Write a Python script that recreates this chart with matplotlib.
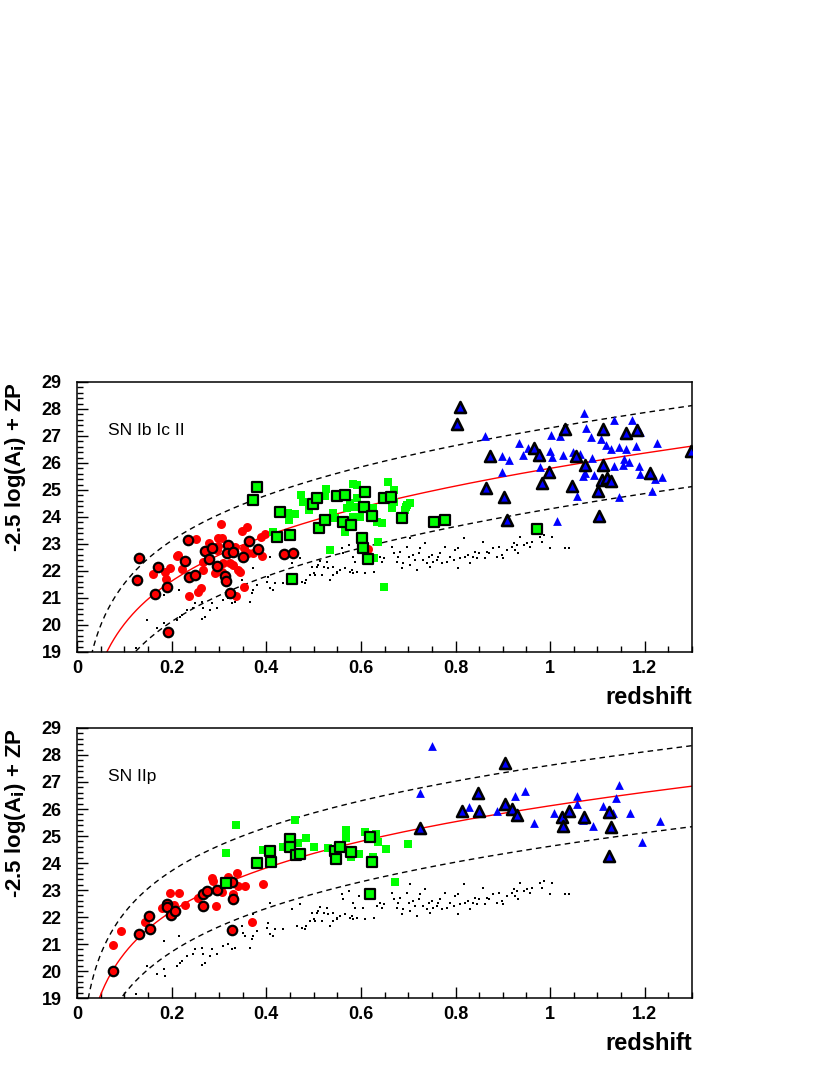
import numpy as np
import matplotlib
matplotlib.use("Agg")
import matplotlib.pyplot as plt
from matplotlib.ticker import MultipleLocator

plt.rcParams['font.family'] = ['Liberation Sans', 'DejaVu Sans']

# ---------------- data: top panel (SN Ib Ic II) ----------------
dot_z = [0.147, 0.183, 0.186, 0.168, 0.211, 0.218, 0.221, 0.233, 0.249, 0.246, 0.264, 0.267,
         0.270, 0.264, 0.281, 0.285, 0.295, 0.309, 0.320, 0.327, 0.334, 0.348, 0.350, 0.355,
         0.366, 0.369, 0.373, 0.373, 0.380, 0.401, 0.404, 0.407, 0.408, 0.415, 0.419, 0.436,
         0.454, 0.464, 0.471, 0.475, 0.482, 0.485, 0.493, 0.496, 0.500, 0.503, 0.507, 0.510,
         0.514, 0.517, 0.521, 0.528, 0.531, 0.535, 0.542, 0.549, 0.216, 0.183, 0.125,
         0.560, 0.563, 0.574, 0.584, 0.588, 0.591, 0.584, 0.577, 0.581, 0.567, 0.556, 0.549,
         0.542, 0.595, 0.605, 0.609, 0.627, 0.634, 0.641, 0.644, 0.648, 0.665, 0.669, 0.676,
         0.679, 0.683, 0.686, 0.690, 0.697, 0.701, 0.704, 0.704, 0.711, 0.715, 0.718, 0.722,
         0.725, 0.732, 0.736, 0.739, 0.743, 0.746, 0.750, 0.753, 0.760, 0.764, 0.768, 0.771,
         0.778, 0.782, 0.789, 0.796, 0.799, 0.806, 0.806, 0.810, 0.817, 0.820, 0.827, 0.831,
         0.838, 0.842, 0.845, 0.849, 0.859, 0.863, 0.866, 0.870, 0.880, 0.887, 0.891, 0.898,
         0.901, 0.908, 0.919, 0.923, 0.926, 0.930, 0.933, 0.937, 0.944, 0.951, 0.958, 0.961,
         0.979, 0.982, 0.986, 1.000, 1.004, 1.032, 1.039]
dot_m = [20.19, 20.06, 19.81, 19.88, 20.19, 20.28, 20.37, 20.56, 20.80, 20.62, 20.86, 20.62,
         20.31, 20.21, 20.56, 20.80, 20.62, 20.93, 20.99, 20.80, 20.86, 21.67, 21.42, 21.30,
         20.86, 21.17, 21.30, 22.10, 21.48, 21.61, 21.79, 22.53, 21.36, 21.30, 21.54, 21.54,
         22.28, 21.67, 22.47, 21.61, 21.57, 21.67, 21.85, 22.16, 21.91, 21.85, 22.16, 22.22,
         22.38, 21.85, 22.16, 22.35, 22.10, 21.67, 22.16, 21.98, 21.30, 21.11, 19.14,
         22.84, 22.65, 22.96, 22.53, 22.35, 21.98, 21.91, 21.98, 22.04, 22.10, 22.04, 21.91,
         21.85, 22.78, 22.35, 21.91, 21.98, 22.41, 22.53, 22.35, 22.47, 22.90, 22.65, 22.35,
         22.53, 22.72, 22.10, 22.28, 22.90, 22.53, 23.21, 22.22, 22.59, 22.41, 22.04, 22.65,
         22.84, 22.41, 23.02, 22.28, 22.53, 22.16, 22.59, 22.35, 22.41, 22.53, 22.65, 22.28,
         22.90, 22.35, 22.53, 22.41, 22.78, 22.10, 22.84, 22.47, 23.21, 22.53, 22.59, 22.28,
         22.53, 22.72, 22.47, 22.65, 23.09, 22.47, 22.72, 22.65, 22.84, 22.53, 22.90, 22.59,
         22.47, 22.78, 22.90, 23.02, 22.78, 22.96, 22.65, 23.27, 22.96, 23.02, 22.90, 23.09,
         23.27, 23.09, 23.33, 22.84, 23.27, 22.84, 22.84]

top_red_z = [0.251, 0.304, 0.297, 0.306, 0.359, 0.348, 0.389, 0.397, 0.161, 0.186, 0.197, 0.211,
             0.214, 0.221, 0.266, 0.262, 0.256, 0.237, 0.295, 0.299, 0.323, 0.330, 0.334, 0.341,
             0.345, 0.352, 0.335, 0.352, 0.362, 0.371, 0.390, 0.292, 0.306, 0.188, 0.309, 0.267,
             0.279, 0.616]
top_red_m = [23.17, 23.74, 23.23, 23.23, 23.64, 23.48, 23.27, 23.36, 21.88, 21.97, 22.10, 22.55,
             22.59, 22.06, 22.04, 21.36, 21.23, 21.07, 22.78, 22.93, 22.31, 22.22, 22.90, 22.04,
             21.95, 21.39, 21.09, 22.84, 22.68, 22.68, 22.57, 21.91, 21.97, 21.70, 22.31, 22.34,
             23.02, 22.81]
top_redk_z = [0.131, 0.126, 0.171, 0.165, 0.190, 0.192, 0.228, 0.235, 0.237, 0.249, 0.271, 0.280,
              0.285, 0.295, 0.313, 0.315, 0.319, 0.316, 0.329, 0.323, 0.350, 0.364, 0.382, 0.438,
              0.456]
top_redk_m = [22.49, 21.67, 22.16, 21.13, 21.42, 19.73, 22.38, 23.15, 21.77, 21.86, 22.74, 22.43,
              22.86, 22.20, 21.83, 21.64, 22.96, 22.68, 22.69, 21.17, 22.53, 23.11, 22.81, 22.64,
              22.68]

top_grn_z = [0.473, 0.478, 0.491, 0.524, 0.526, 0.447, 0.461, 0.449, 0.542, 0.545, 0.567, 0.583,
             0.591, 0.591, 0.588, 0.584, 0.577, 0.598, 0.570, 0.626, 0.634, 0.644, 0.637, 0.657,
             0.669, 0.665, 0.670, 0.697, 0.693, 0.535, 0.628, 0.649, 0.415, 0.704, 0.696]
top_grn_m = [24.81, 24.57, 24.26, 24.78, 25.02, 24.16, 24.11, 23.89, 24.14, 23.95, 23.43, 25.22,
             25.19, 24.69, 24.36, 24.01, 24.51, 24.01, 24.32, 24.32, 23.83, 23.79, 23.09, 25.31,
             25.00, 24.32, 24.57, 24.44, 24.26, 22.78, 22.47, 21.39, 23.43, 24.53, 24.38]
top_grnk_z = [0.380, 0.373, 0.428, 0.422, 0.450, 0.454, 0.498, 0.508, 0.511, 0.524, 0.549, 0.567,
              0.562, 0.579, 0.609, 0.607, 0.623, 0.603, 0.604, 0.615, 0.648, 0.664, 0.686, 0.755,
              0.777, 0.972]
top_grnk_m = [25.12, 24.61, 24.20, 23.25, 23.35, 21.69, 24.47, 24.70, 23.59, 23.89, 24.79, 24.83,
              23.81, 23.72, 24.94, 24.36, 24.05, 23.21, 22.84, 22.43, 24.70, 24.73, 23.95, 23.80,
              23.89, 23.54]

top_blu_z = [0.863, 0.899, 0.914, 0.899, 0.934, 0.942, 0.954, 0.979, 1.001, 1.000, 1.004, 1.021,
             1.027, 1.049, 1.063, 1.056, 1.014, 1.072, 1.075, 1.087, 1.088, 1.069, 1.074, 1.092,
             1.108, 1.118, 1.128, 1.136, 1.145, 1.154, 1.157, 1.166, 1.161, 1.174, 1.181, 1.190,
             1.187, 1.189, 1.208, 1.222, 1.226, 1.236, 1.215, 1.146, 1.134]
top_blu_m = [27.00, 26.27, 26.11, 25.68, 26.75, 26.30, 26.54, 25.86, 27.04, 26.44, 26.21, 27.00,
             26.30, 26.42, 26.33, 24.78, 23.86, 27.84, 27.28, 26.97, 26.17, 25.52, 25.64, 25.56,
             26.89, 26.67, 26.51, 27.59, 26.58, 25.93, 26.14, 26.05, 26.51, 27.59, 26.63, 27.16,
             25.90, 25.59, 25.59, 25.39, 26.73, 25.47, 24.96, 24.75, 25.89]
top_bluk_z = [0.810, 0.803, 0.873, 0.865, 0.903, 0.908, 0.965, 0.977, 0.998, 0.982, 1.032, 1.055,
              1.047, 1.073, 1.104, 1.102, 1.111, 1.111, 1.109, 1.120, 1.128, 1.161, 1.183, 1.211,
              1.298]
top_bluk_m = [28.06, 27.43, 26.26, 25.06, 24.75, 23.89, 26.54, 26.30, 25.68, 25.25, 27.25, 26.27,
              25.16, 25.93, 24.05, 24.97, 27.26, 25.93, 25.37, 25.43, 25.35, 27.12, 27.22, 25.62,
              26.44]

# ---------------- data: bottom panel (SN IIp) ----------------
bot_red_z = [0.077, 0.094, 0.144, 0.179, 0.197, 0.204, 0.216, 0.228, 0.256, 0.285, 0.287, 0.294,
             0.306, 0.320, 0.330, 0.338, 0.341, 0.355, 0.394, 0.369]
bot_red_m = [20.96, 21.48, 21.83, 22.32, 22.88, 22.44, 22.88, 22.44, 22.69, 23.43, 23.35, 22.42,
             22.94, 23.49, 22.85, 23.62, 23.15, 23.15, 23.22, 21.80]
bot_redk_z = [0.077, 0.132, 0.153, 0.154, 0.190, 0.190, 0.199, 0.207, 0.266, 0.274, 0.267, 0.295,
              0.328, 0.329, 0.327]
bot_redk_m = [20.01, 21.37, 22.04, 21.54, 22.48, 22.36, 22.07, 22.23, 22.85, 22.98, 22.42, 23.00,
              23.28, 22.67, 21.52]

bot_grn_z = [0.336, 0.315, 0.394, 0.436, 0.461, 0.468, 0.484, 0.500, 0.531, 0.568, 0.568, 0.579,
             0.596, 0.609, 0.632, 0.637, 0.653, 0.626, 0.672, 0.700]
bot_grn_m = [25.41, 24.38, 24.48, 24.58, 25.59, 24.73, 24.91, 24.60, 24.54, 25.22, 24.91, 24.21,
             24.33, 25.14, 25.07, 24.77, 24.52, 24.21, 23.28, 24.69]
bot_grnk_z = [0.314, 0.381, 0.408, 0.410, 0.450, 0.450, 0.463, 0.471, 0.545, 0.547, 0.555, 0.579,
              0.619, 0.623, 0.619]
bot_grnk_m = [23.27, 23.99, 24.44, 24.05, 24.88, 24.58, 24.30, 24.32, 24.46, 24.16, 24.60, 24.42,
              24.95, 24.04, 22.84]

bot_blu_z = [0.751, 0.725, 0.829, 0.887, 0.926, 0.947, 0.965, 1.009, 1.056, 1.056, 1.070, 1.090,
             1.111, 1.132, 1.140, 1.146, 1.168, 1.194, 1.233]
bot_blu_m = [28.33, 26.61, 26.09, 25.94, 26.48, 26.68, 25.47, 25.84, 26.48, 26.19, 25.59, 25.37,
             26.12, 25.84, 26.40, 26.89, 25.84, 24.77, 25.57]
bot_bluk_z = [0.725, 0.813, 0.847, 0.850, 0.905, 0.905, 0.920, 0.931, 1.026, 1.028, 1.040, 1.072,
              1.125, 1.128, 1.125]
bot_bluk_m = [25.28, 25.94, 26.58, 25.94, 27.72, 26.19, 25.99, 25.78, 25.72, 25.38, 25.93, 25.72,
              25.90, 25.32, 24.27]

# model curve m(z) = A + 5 log10(z) + B z, band +-1.5 mag
curve_top = (24.95, 0.85)
curve_bot = (25.60, 0.52)
band = 1.5


def model(z, pars):
    a, b = pars
    return a + 5.0 * np.log10(z) + b * z


def panel(ax, label, pars, red, redk, grn, grnk, blu, bluk):
    zz = np.linspace(0.005, 1.3, 600)
    mm = model(zz, pars)
    ax.plot(zz, mm + band, color='black', lw=1.0, ls=(0, (4, 3)), zorder=2)
    ax.plot(zz, mm - band, color='black', lw=1.0, ls=(0, (4, 3)), zorder=2)
    ax.plot(zz, mm, color='#ff0000', lw=1.0, zorder=2)

    ax.scatter(dot_z, dot_m, s=3, marker='s', color='black', lw=0, zorder=3)

    ax.scatter(*red, s=42, marker='o', color='#ff0000', lw=0, zorder=4)
    ax.scatter(*redk, s=46, marker='o', facecolor='#ff0000', edgecolor='black', lw=1.6, zorder=5)
    ax.scatter(*grn, s=34, marker='s', color='#00ff00', lw=0, zorder=4)
    ax.scatter(*grnk, s=44, marker='s', facecolor='#00ff00', edgecolor='black', lw=1.6, zorder=5)
    ax.scatter(*blu, s=40, marker='^', color='#0000ff', lw=0, zorder=4)
    ax.scatter(*bluk, s=62, marker='^', facecolor='#0000ff', edgecolor='black', lw=1.9, zorder=5)

    ax.text(0.066, 27.2, label, fontsize=12.5, va='center', ha='left')

    ax.set_xlim(0, 1.3)
    ax.set_ylim(19, 29)
    ax.xaxis.set_major_locator(MultipleLocator(0.2))
    ax.xaxis.set_minor_locator(MultipleLocator(0.05))
    ax.yaxis.set_major_locator(MultipleLocator(1))
    ax.yaxis.set_minor_locator(MultipleLocator(0.2))
    ax.set_xticks([0, 0.2, 0.4, 0.6, 0.8, 1.0, 1.2])
    ax.set_xticklabels(['0', '0.2', '0.4', '0.6', '0.8', '1', '1.2'])
    ax.tick_params(which='major', direction='in', length=8, width=1.0, labelsize=13)
    ax.tick_params(which='minor', direction='in', length=4, width=1.0)
    ax.tick_params(axis='y', which='major', pad=11)
    ax.tick_params(axis='x', which='major', pad=6)
    for t in ax.get_xticklabels() + ax.get_yticklabels():
        t.set_fontweight('bold')
    for sp in ax.spines.values():
        sp.set_linewidth(1.1)

    ax.set_xlabel('redshift', fontsize=17, fontweight='bold', loc='right')
    ax.xaxis.set_label_coords(1.0, -0.125)
    ax.set_ylabel('-2.5 log(A$_\\mathbf{i}$) + ZP', fontsize=16, fontweight='bold', loc='top')
    ax.yaxis.set_label_coords(-0.079, 1.0)


fig = plt.figure(figsize=(8.3, 10.75), dpi=100)
ax1 = fig.add_axes([0.0928, 0.3935, 0.741, 0.2512])
ax2 = fig.add_axes([0.0928, 0.0716, 0.741, 0.2512])

panel(ax1, 'SN Ib Ic II', curve_top,
      (top_red_z, top_red_m), (top_redk_z, top_redk_m),
      (top_grn_z, top_grn_m), (top_grnk_z, top_grnk_m),
      (top_blu_z, top_blu_m), (top_bluk_z, top_bluk_m))
panel(ax2, 'SN IIp', curve_bot,
      (bot_red_z, bot_red_m), (bot_redk_z, bot_redk_m),
      (bot_grn_z, bot_grn_m), (bot_grnk_z, bot_grnk_m),
      (bot_blu_z, bot_blu_m), (bot_bluk_z, bot_bluk_m))

fig.savefig('out.png', dpi=100)
